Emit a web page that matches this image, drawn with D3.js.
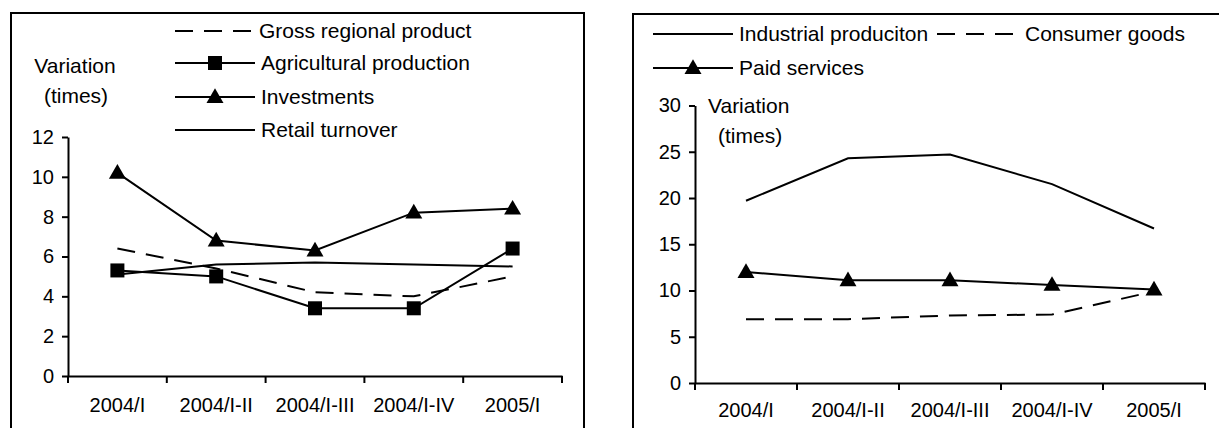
<!DOCTYPE html>
<html><head><meta charset="utf-8">
<script src="https://cdn.jsdelivr.net/npm/d3@7"></script>
<style>
html,body{margin:0;padding:0;background:#fff;}
svg{display:block;}
text{font-family:"Liberation Sans",Arial,sans-serif;fill:#000;}
</style></head>
<body>
<svg id="chart" width="1219" height="428"></svg>
<script>
const categories = ["2004/I","2004/I-II","2004/I-III","2004/I-IV","2005/I"];

// Left panel series
const grossRegional = [6.4, 5.4, 4.2, 4.0, 5.0];
const agricultural  = [5.3, 5.0, 3.4, 3.4, 6.4];
const investments   = [10.2, 6.8, 6.3, 8.2, 8.4];
const retail        = [5.1, 5.6, 5.7, 5.6, 5.5];
const leftTicks = [0, 2, 4, 6, 8, 10, 12];

// Right panel series
const industrial = [19.7, 24.3, 24.7, 21.5, 16.7];
const consumer   = [6.9, 6.9, 7.3, 7.4, 9.9];
const paid       = [12.0, 11.1, 11.1, 10.6, 10.1];
const rightTicks = [0, 5, 10, 15, 20, 25, 30];

const svg = d3.select("#chart");
const FS_AX = 20, FS_LG = 21;
const DASH = "18,11";

function panel(cfg) {
  const g = svg.append("g");
  g.append("rect").attr("x", cfg.box[0]).attr("y", cfg.box[1])
    .attr("width", cfg.box[2]).attr("height", cfg.box[3])
    .attr("fill", "none").attr("stroke", "#000").attr("stroke-width", 2);

  const x = d3.scaleBand().domain(categories).range([cfg.x0, cfg.x1]);
  const y = d3.scaleLinear().domain([0, cfg.ymax]).range([cfg.y0, cfg.y1]);

  const ya = g.append("g").attr("transform", `translate(${cfg.x0},0)`)
    .call(d3.axisLeft(y).tickValues(cfg.ticks).tickSize(6).tickSizeOuter(0).tickPadding(8));
  ya.selectAll("path,line").attr("stroke", "#000").attr("stroke-width", 2);
  ya.selectAll("text").attr("font-size", FS_AX).attr("font-family", "Liberation Sans, Arial, sans-serif").attr("fill", "#000");

  const xa = g.append("g").attr("transform", `translate(0,${cfg.y0})`)
    .call(d3.axisBottom(x).tickSize(0).tickPadding(cfg.xpad));
  xa.select("path.domain").attr("stroke", "#000").attr("stroke-width", 2);
  xa.selectAll("text").attr("font-size", FS_AX).attr("font-family", "Liberation Sans, Arial, sans-serif").attr("fill", "#000");
  const bounds = categories.map(c => x(c)).concat([cfg.x1]);
  g.append("g").selectAll("line").data(bounds).join("line")
    .attr("x1", d => d).attr("x2", d => d)
    .attr("y1", cfg.y0).attr("y2", cfg.y0 + 7)
    .attr("stroke", "#000").attr("stroke-width", 2);

  const cx = c => x(c) + x.bandwidth() / 2;
  const line = d3.line().x((d, i) => cx(categories[i])).y(d => y(d));
  const tri = d3.symbol().type(d3.symbolTriangle).size(125);

  cfg.series.forEach(s => {
    g.append("path").datum(s.values).attr("d", line)
      .attr("fill", "none").attr("stroke", "#000").attr("stroke-width", 2)
      .attr("stroke-dasharray", s.dash ? DASH : null);
    if (s.marker === "square") {
      g.append("g").selectAll("rect").data(s.values).join("rect")
        .attr("x", (d, i) => cx(categories[i]) - 7).attr("y", d => y(d) - 7)
        .attr("width", 14).attr("height", 14).attr("fill", "#000");
    } else if (s.marker === "triangle") {
      g.append("g").selectAll("path").data(s.values).join("path")
        .attr("d", tri)
        .attr("transform", (d, i) => `translate(${cx(categories[i])},${y(d) + 1})`)
        .attr("fill", "#000");
    }
  });

  cfg.legend.forEach(L => {
    g.append("line").attr("x1", L.x).attr("x2", L.x + L.w).attr("y1", L.y).attr("y2", L.y)
      .attr("stroke", "#000").attr("stroke-width", 2)
      .attr("stroke-dasharray", L.s.dash ? DASH : null);
    const mx = L.x + L.w / 2;
    if (L.s.marker === "square") {
      g.append("rect").attr("x", mx - 7).attr("y", L.y - 7).attr("width", 14).attr("height", 14).attr("fill", "#000");
    } else if (L.s.marker === "triangle") {
      g.append("path").attr("d", tri)
        .attr("transform", `translate(${mx},${L.y + 1})`).attr("fill", "#000");
    }
    g.append("text").attr("x", L.x + L.w + (L.gap || 6)).attr("y", L.y).attr("dy", "0.35em")
      .attr("font-size", FS_LG).text(L.s.name);
  });

  cfg.title.forEach(t => {
    g.append("text").attr("x", t.x).attr("y", t.y).attr("dy", "0.35em")
      .attr("text-anchor", t.anchor || "middle").attr("font-size", FS_LG).text(t.text);
  });
}

const gSeries = {name: "Gross regional product", values: grossRegional, dash: true};
const aSeries = {name: "Agricultural production", values: agricultural, marker: "square"};
const iSeries = {name: "Investments", values: investments, marker: "triangle"};
const rSeries = {name: "Retail turnover", values: retail};

panel({
  box: [11, 13, 573, 440],
  x0: 68, x1: 562, y0: 376, y1: 137, ymax: 12, ticks: leftTicks, xpad: 22,
  series: [rSeries, gSeries, aSeries, iSeries],
  legend: [
    {s: gSeries, x: 175, w: 76, y: 31, gap: 8},
    {s: aSeries, x: 175, w: 80, y: 63},
    {s: iSeries, x: 175, w: 80, y: 97},
    {s: rSeries, x: 175, w: 80, y: 130}
  ],
  title: [{x: 75, y: 66, text: "Variation"}, {x: 76, y: 96, text: "(times)"}]
});

const indSeries = {name: "Industrial produciton", values: industrial};
const conSeries = {name: "Consumer goods", values: consumer, dash: true};
const paidSeries = {name: "Paid services", values: paid, marker: "triangle"};

panel({
  box: [633, 14, 620, 440],
  x0: 695, x1: 1205, y0: 383, y1: 105.5, ymax: 30, ticks: rightTicks, xpad: 20,
  series: [indSeries, conSeries, paidSeries],
  legend: [
    {s: indSeries, x: 653, w: 80, y: 34},
    {s: conSeries, x: 937, w: 76, y: 34, gap: 12},
    {s: paidSeries, x: 653, w: 80, y: 68}
  ],
  title: [{x: 708, y: 106, text: "Variation", anchor: "start"}, {x: 718, y: 136, text: "(times)", anchor: "start"}]
});
</script>
</body></html>
